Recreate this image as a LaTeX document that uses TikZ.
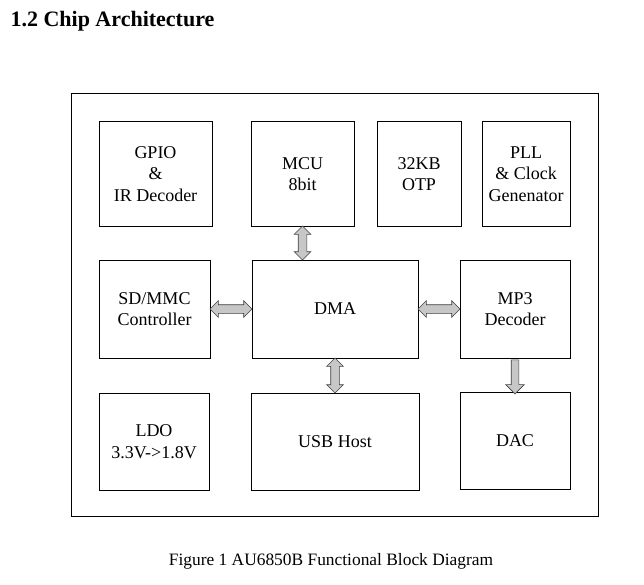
\documentclass[tikz,border=0pt]{standalone}
\usepackage{fontspec}
\setmainfont{Liberation Serif}
\usetikzlibrary{shapes.arrows}

\begin{document}
\begin{tikzpicture}[x=1pt,y=-1pt,
  block/.style={draw,line width=1pt,align=center,inner sep=0pt,font=\fontsize{18}{21.5}\selectfont},
  dblarrow/.style={double arrow,draw=black!75,fill=black!22,line width=0.6pt,inner sep=4pt,
    double arrow head extend=4pt,double arrow head indent=0pt,sloped,allow upside down},
  sglarrow/.style={single arrow,draw=black!75,fill=black!22,line width=0.6pt,inner sep=3.5pt,
    single arrow head extend=5.5pt,single arrow head indent=0pt,sloped,allow upside down}]
\useasboundingbox (0,0) rectangle (644,585);
% heading and caption
\node[anchor=base west,font=\fontsize{22}{26}\selectfont\bfseries] (title) at (7,27) {1.2 Chip Architecture};
\node[anchor=base,font=\fontsize{17.4}{20}\selectfont] (caption) at (331,565) {Figure 1 AU6850B Functional Block Diagram};
% chip outline
\draw[line width=1pt] (71,94) rectangle (598,516);
% blocks: name/x/y/width/height/text
\foreach \n/\x/\y/\w/\h/\t in {gpio/155.5/174/113/104/{GPIO\\\&\\IR Decoder},
    mcu/302.5/174/103/104/{MCU\\8bit},
    otp/419/174/84/104/{32KB\\OTP},
    pll/526/174/88/104/{PLL\\\& Clock\\Genenator},
    sd/154.5/309/111/98/{SD/MMC\\Controller},
    dma/335/309/166/98/{DMA},
    mp3/515/309/110/98/{MP3\\Decoder},
    ldo/154/441.5/110/97/{LDO\\3.3V->1.8V},
    usb/335/441.5/168/97/{USB Host},
    dac/515/440.5/110/97/{DAC}}
\node[block,minimum width=\w pt,minimum height=\h pt] (\n) at (\x,\y) {\t};
% bus arrows
\path (mcu.south) -- (mcu.south |- dma.north) node[midway,dblarrow,minimum height=34pt] (mcudma) {};
\path (sd.east) -- (dma.west) node[midway,dblarrow,minimum height=42pt] (sddma) {};
\path (dma.east) -- (mp3.west) node[midway,dblarrow,minimum height=42pt] (dmamp3) {};
\path (dma.south) -- (dma.south |- usb.north) node[midway,dblarrow,minimum height=35pt] (dmausb) {};
\path (mp3.south) -- (dac.north) node[midway,sglarrow,minimum height=34pt] (mp3dac) {};
\end{tikzpicture}
\end{document}
